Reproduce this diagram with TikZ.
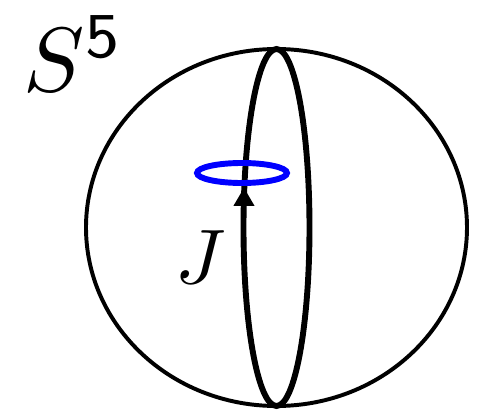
\documentclass[tikz,border=0pt]{standalone}
\usepackage{tikz}
\usetikzlibrary{arrows.meta}
\definecolor{ringblue}{HTML}{0000FF}
\tikzset{
  outersphere/.style={draw, line width=2.8pt},
  meridian/.style={draw, line width=4.2pt},
  bluering/.style={draw=ringblue, line width=4.2pt},
  flowarr/.style={-{Triangle[length=0.45cm,width=0.52cm]}, line width=1pt},
  biglabel/.style={inner sep=0pt, transform shape}
}
\begin{document}
\begin{tikzpicture}
  \useasboundingbox (-6.9125,-4.6125) rectangle (5.0875,5.6875);
  \draw[outersphere] (0,0) ellipse [x radius=4.7625cm, y radius=4.4625cm];
  \draw[meridian] (0,0) ellipse [x radius=0.825cm, y radius=4.4625cm];
  % arrow head on the meridian
  \coordinate (tail) at (-0.8125,0.3);
  \coordinate (head) at (-0.8125,0.99);
  \draw[flowarr] (tail) -- (head);
  \draw[bluering] (-0.8625,1.3625) ellipse [x radius=1.125cm, y radius=0.25cm];
  \node[biglabel, scale=5.5, anchor=base west] (charge) at (-2.56,-1.39) {$J$};
  \node[biglabel, scale=6.5, anchor=base west] (sphere) at (-6.36,3.41) {$S^{\mathsf{5}}$};
\end{tikzpicture}
\end{document}
